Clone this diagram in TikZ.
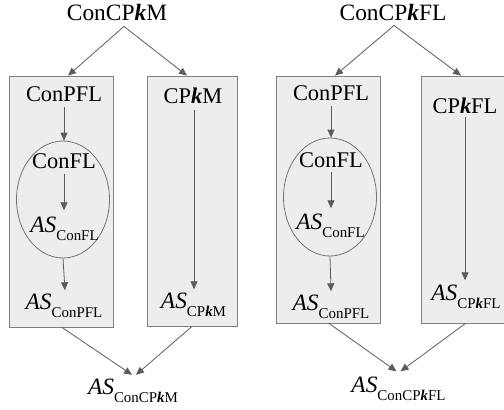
\documentclass[tikz,border=0pt]{standalone}
\usepackage{fontspec}
\setmainfont{Liberation Serif}
\usetikzlibrary{arrows.meta,shapes.geometric}
\newcommand{\kk}{\textbf{\textit{k}}}
\newcommand{\ASx}[1]{\textit{AS}\raisebox{-0.36em}{\fontsize{15}{15}\selectfont #1}}
\begin{document}
\begin{tikzpicture}[x=1bp,y=-1bp,
  lbl/.style={font=\fontsize{22.5}{25}\selectfont, inner sep=0pt, anchor=base},
  ttl/.style={font=\fontsize{23.5}{26}\selectfont, inner sep=0pt, anchor=base},
  aslbl/.style={font=\fontsize{23.5}{26}\selectfont, inner sep=0pt, anchor=base},
  panel/.style={draw=black!50, fill=black!7, line width=0.8bp, inner sep=0pt},
  oval/.style={ellipse, draw=black!55, line width=0.8bp, inner sep=0pt},
  conn/.style={draw=black!64, line width=0.8bp, -{Triangle[length=8bp,width=7bp]}}
]
\useasboundingbox (0,0) rectangle (504,409);
\clip (0,0) rectangle (504,409);

% ---------- left half ----------
\node[panel, minimum width=104bp, minimum height=251bp] (L1) at (61,201.5) {};
\node[panel, minimum width=90bp, minimum height=250bp] (R1) at (192,201) {};
\node[oval, minimum width=93bp, minimum height=117bp] (E1) at (63,199.5) {};

\node[ttl] (t1) at (117,20) {ConCP\kk M};
\node[lbl] (cp1) at (64,101) {ConPFL};
\node[lbl] (f1) at (64,168) {ConFL};
\node[aslbl] (asf1) at (64.5,232) {\ASx{ConFL}};
\node[aslbl] (asp1) at (64,309) {\ASx{ConPFL}};
\node[lbl] (c1) at (193,103) {CP\kk M};
\node[aslbl] (asc1) at (193.5,308) {\ASx{CP\kk M}};
\node[aslbl] (b1) at (133,394.5) {\ASx{ConCP\kk M}};

\coordinate (ap1) at ([xshift=7bp,yshift=-6bp]t1.south);
\draw[conn] (ap1) -- ([xshift=7bp]L1.north);
\draw[conn] (ap1) -- ([xshift=-5bp]R1.north);
\draw[conn] ([yshift=-6bp]cp1.south) -- (cp1.south |- E1.north);
\draw[conn] ([yshift=-6bp]f1.south) -- ([yshift=6bp]f1.south |- asf1.north);
\draw[conn] (E1.south) -- ([xshift=1bp,yshift=3bp]asp1.north);
\draw[conn] ([xshift=1bp,yshift=-7bp]c1.south) -- ([xshift=1bp,yshift=3bp]c1.south |- asc1.north);
\draw[conn] ([xshift=1bp]L1.south) -- ([xshift=-1bp,yshift=4bp]b1.north);
\draw[conn] (R1.south) -- ([xshift=3bp,yshift=4bp]b1.north);

% ---------- right half ----------
\node[panel, minimum width=104bp, minimum height=247bp] (L2) at (328,199.5) {};
\node[panel, minimum width=89bp, minimum height=247bp] (R2) at (465.5,199.5) {};
\node[oval, minimum width=93bp, minimum height=118bp] (E2) at (330,197) {};

\node[ttl] (t2) at (393,20) {ConCP\kk FL};
\node[lbl] (cp2) at (331,100) {ConPFL};
\node[lbl] (f2) at (331,167) {ConFL};
\node[aslbl] (asf2) at (330.5,229) {\ASx{ConFL}};
\node[aslbl] (asp2) at (331,310) {\ASx{ConPFL}};
\node[lbl] (c2) at (465,113) {CP\kk FL};
\node[aslbl] (asc2) at (466,300) {\ASx{CP\kk FL}};
\node[aslbl] (b2) at (398.5,392) {\ASx{ConCP\kk FL}};

\coordinate (ap2) at ([xshift=1bp,yshift=-5bp]t2.south);
\draw[conn] (ap2) -- ([xshift=7bp]L2.north);
\draw[conn] (ap2) -- ([xshift=-4.5bp]R2.north);
\draw[conn] ([yshift=-6bp]cp2.south) -- (cp2.south |- E2.north);
\draw[conn] ([yshift=-5bp]f2.south) -- ([yshift=5bp]f2.south |- asf2.north);
\draw[conn] (E2.south) -- ([yshift=3bp]asp2.north);
\draw[conn] ([yshift=-4bp]c2.south) -- ([yshift=4bp]c2.south |- asc2.north);
\draw[conn] ([xshift=1bp]L2.south) -- ([xshift=-2bp,yshift=5bp]b2.north);
\draw[conn] (R2.south) -- ([xshift=2bp,yshift=5bp]b2.north);
\end{tikzpicture}
\end{document}
